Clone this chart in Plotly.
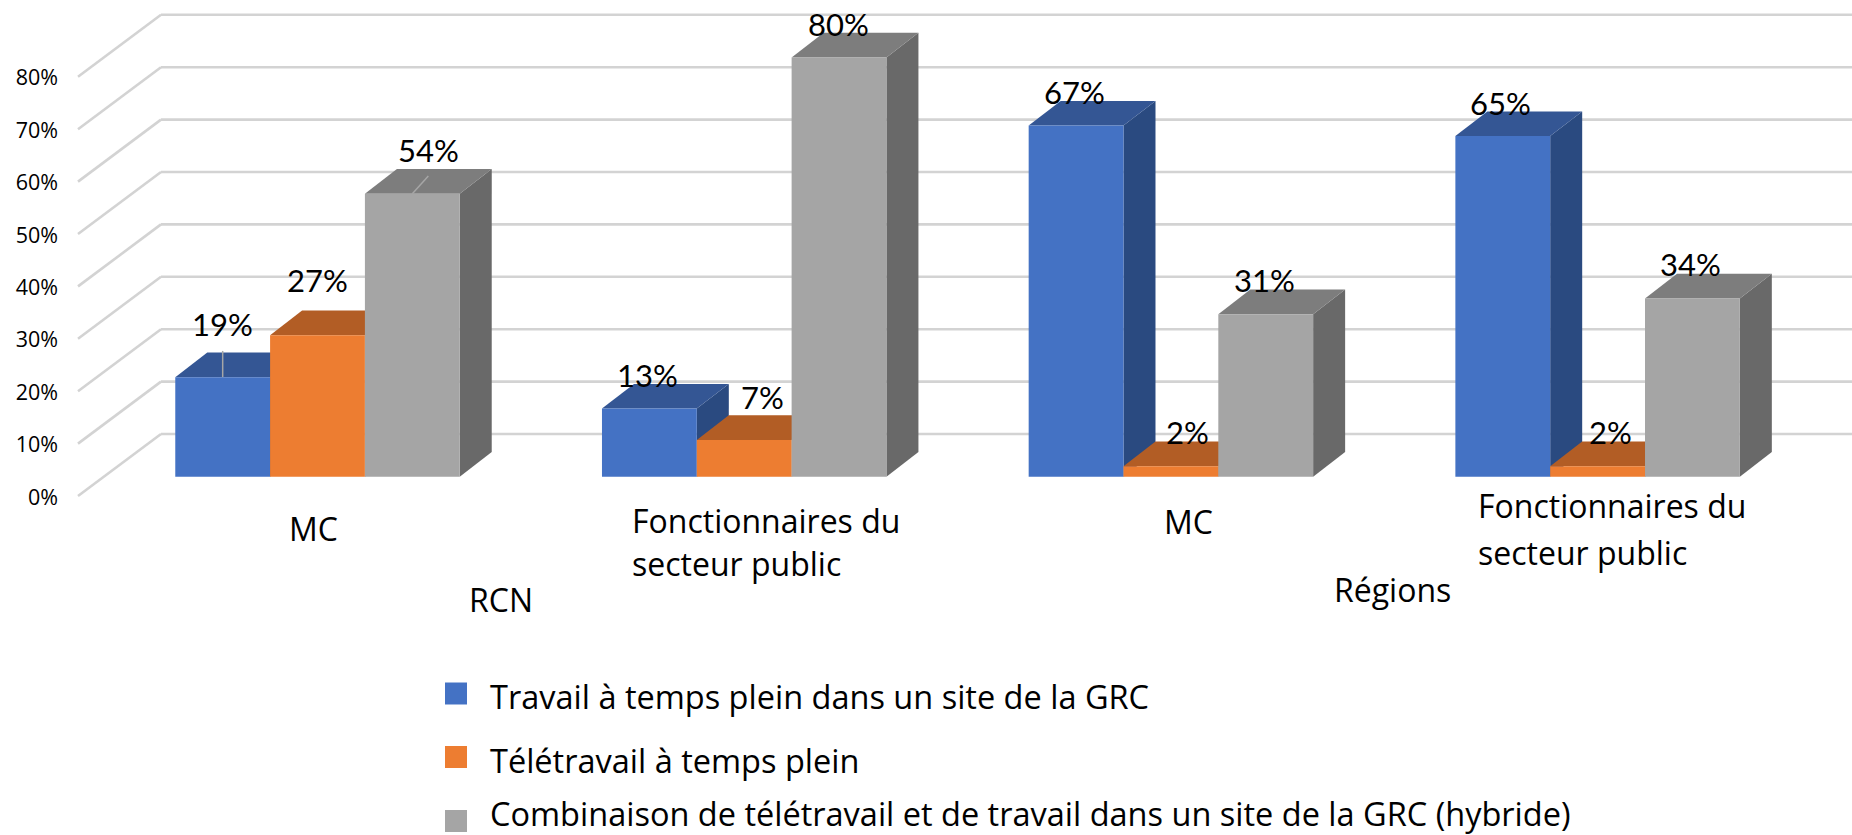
import plotly.graph_objects as go

CATEGORIES = ["MC", "Fonctionnaires du<br>secteur public", "MC", "Fonctionnaires du<br>secteur public"]
REGIONS = ["RCN", "Régions"]
SERIES = [
    "Travail à temps plein dans un site de la GRC",
    "Télétravail à temps plein",
    "Combinaison de télétravail et de travail dans un site de la GRC (hybride)",
]
SITE = [19, 13, 67, 65]
REMOTE = [27, 7, 2, 2]
HYBRID = [54, 80, 31, 34]
TICKS = [0, 10, 20, 30, 40, 50, 60, 70, 80]

W, H = 1852, 835
FRONT = ["#4472C4", "#ED7D31", "#A5A5A5"]
TOP = ["#345694", "#B25D25", "#7D7D7D"]
SIDE = ["#2A4A80", "#B25D25", "#696969"]
GRID = "#D3D3D3"
TXT = "#000000"

# Scales: group spacing 426.7 px, 5.24 px per percent, first group centre 317.5, base at 476.7
X0, XS, Y0, YS = 317.5, 426.7, 476.7, 5.24
xr = [(0 - X0) / XS, (W - X0) / XS]
yr = [(Y0 - H) / YS, Y0 / YS]
BW = 1 / 4.5
DX, DY = 32 / XS, 24.7 / YS          # depth of the bars
WX, WY = 83 / XS, 62 / YS            # depth of the wall
WALL_X = (78 - X0) / XS              # front edge of the wall
WALL_Y = (Y0 - 496) / YS             # front position of 0 %
px = lambda v: v / W
py = lambda v: 1 - v / H


def poly(points, color):
    path = "M" + " L".join(f"{a},{b}" for a, b in points) + " Z"
    return dict(type="path", path=path, xref="x", yref="y", fillcolor=color,
                line=dict(width=0), layer="below")


shapes = []
for t in TICKS:
    line = dict(color=GRID, width=2.6)
    y = WALL_Y + t
    shapes.append(dict(type="line", xref="x", yref="y", x0=WALL_X, y0=y, x1=WALL_X + WX, y1=y + WY,
                       line=line, layer="below"))
    shapes.append(dict(type="line", xref="x", yref="y", x0=WALL_X + WX, y0=y + WY, x1=xr[1], y1=y + WY,
                       line=line, layer="below"))

data = [SITE, REMOTE, HYBRID]
for g in range(len(CATEGORIES)):
    for s in range(3):
        v = data[s][g]
        left = g + (s - 1.5) * BW
        right = left + BW
        shapes.append(poly([(right, 0), (right + DX, DY), (right + DX, v + DY), (right, v)], SIDE[s]))
        shapes.append(poly([(left, v), (left + DX, v + DY), (right + DX, v + DY), (right, v)], TOP[s]))

# Leader lines of two data labels
leader = dict(color="#A6A6A6", width=1.5)
shapes.append(dict(type="line", xref="x", yref="y", x0=0 - BW, y0=SITE[0], x1=0 - BW, y1=SITE[0] + 5,
                   line=leader, layer="below"))
shapes.append(dict(type="line", xref="x", yref="y", x0=BW, y0=HYBRID[0], x1=BW + DX * 0.5, y1=HYBRID[0] + 3.4,
                   line=leader, layer="below"))

fig = go.Figure()
for s in range(3):
    fig.add_bar(x=list(range(len(CATEGORIES))), y=data[s], name=SERIES[s],
                marker=dict(color=FRONT[s], line=dict(width=0)), showlegend=False)
fig.add_scatter(x=[None], y=[None], yaxis="y2", showlegend=False, hoverinfo="skip")

annotations = []
def label(text, x, y, size, font="Open Sans", anchor="center", align="center"):
    annotations.append(dict(text=text, x=px(x), y=py(y), xref="paper", yref="paper", showarrow=False,
                            xanchor=anchor, yanchor="middle", align=align,
                            font=dict(family=font, size=size, color=TXT)))

# Data labels
LABEL_XY = [[(222, 324), (647, 375), (1074, 92), (1500, 103)],
            [(317, 280), (762, 397), (1187, 432), (1610, 432)],
            [(428, 150), (838, 24), (1264, 280), (1690, 264)]]
for s in range(3):
    for g in range(4):
        label(f"{data[s][g]}%", *LABEL_XY[s][g], 31, font="Lato")

# Category labels: the two-line labels keep a wider line spacing
CAT_XY = [[(313, 528)], [(630, 520), (630, 563)], [(1188, 521)], [(1476, 505), (1476, 552)]]
for g, cat in enumerate(CATEGORIES):
    for part, (x, y) in zip(cat.split("<br>"), CAT_XY[g]):
        multi = "<br>" in cat
        label(part, x, y, 32, anchor="left" if multi else "center", align="left" if multi else "center")
label(REGIONS[0], 501, 599, 32)
label(REGIONS[1], 1392, 589, 32)

# Legend
LEGEND_Y = [693.5, 757, 821]
LEGEND_TEXT_Y = [696, 760, 813]
for s in range(3):
    shapes.append(dict(type="rect", xref="paper", yref="paper", x0=px(445), x1=px(467),
                       y0=py(LEGEND_Y[s] + 11), y1=py(LEGEND_Y[s] - 11),
                       fillcolor=FRONT[s], line=dict(width=0)))
    label(SERIES[s], 488, LEGEND_TEXT_Y[s], 32.5, anchor="left", align="left")

fig.update_layout(
    width=W, height=H, autosize=False, margin=dict(l=0, r=0, t=0, b=0, pad=0),
    paper_bgcolor="white", plot_bgcolor="white",
    barmode="group", bargap=1 / 3, bargroupgap=0,
    showlegend=False, shapes=shapes, annotations=annotations,
    xaxis=dict(visible=False, range=xr, fixedrange=True),
    yaxis=dict(visible=False, range=yr, fixedrange=True),
    yaxis2=dict(overlaying="y", anchor="free", position=px(78), side="left",
                range=[yr[0] - WALL_Y + 0.2, yr[1] - WALL_Y + 0.2], tickmode="array", tickvals=TICKS,
                ticktext=[f"{t}%" for t in TICKS], showgrid=False, zeroline=False, showline=False,
                ticks="", ticklabelstandoff=20, fixedrange=True,
                tickfont=dict(family="Open Sans", size=21.5, color=TXT)),
)
fig.write_html("out.html", config={"displayModeBar": False},
               post_script="document.body.style.margin='0';document.body.style.overflow='hidden';")
